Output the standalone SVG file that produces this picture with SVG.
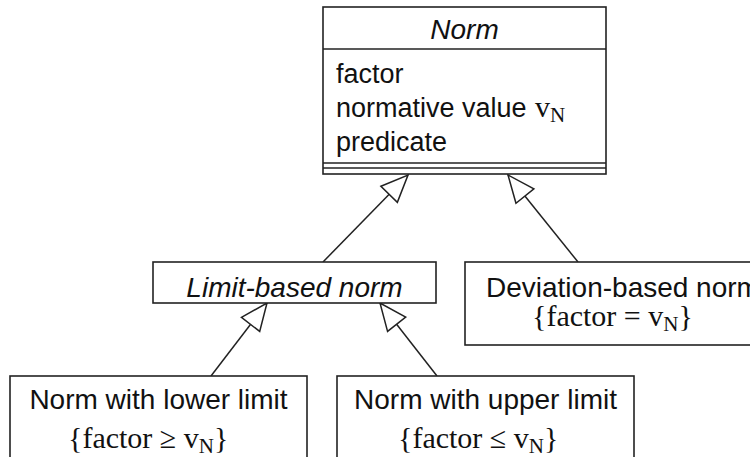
<svg xmlns="http://www.w3.org/2000/svg" width="750" height="457" viewBox="0 0 750 457">
  <style>
    .box { fill: #fff; stroke: #222; stroke-width: 1.6; }
    .rule { stroke: #222; stroke-width: 1.6; fill: none; }
    .edge { stroke: #222; stroke-width: 1.5; fill: none; marker-end: url(#gen); }
    .sans { font-family: "Liberation Sans", Arial, sans-serif; font-size: 28px; fill: #111; }
    .attr { font-size: 27px; }
    .ital { font-style: italic; }
    .serif { font-family: "Liberation Serif", "Times New Roman", serif; font-size: 30px; fill: #111; }
    .sub { font-size: 21px; }
  </style>
  <defs>
    <!-- hollow generalization triangle -->
    <marker id="gen" viewBox="-2 -14 31 28" refX="27" refY="0" markerWidth="31" markerHeight="28" markerUnits="userSpaceOnUse" orient="auto">
      <path d="M0,-11.5 L27,0 L0,11.5 Z" fill="#fff" stroke="#222" stroke-width="1.5"/>
    </marker>
  </defs>
  <rect width="750" height="457" fill="#fff"/>

  <g id="connectors">
    <line class="edge" x1="323" y1="262" x2="408" y2="175"/>
    <line class="edge" x1="578" y1="262" x2="508" y2="175"/>
    <line class="edge" x1="211" y1="376" x2="267" y2="303"/>
    <line class="edge" x1="437" y1="376" x2="380" y2="303"/>
  </g>

  <g id="norm">
    <rect class="box" x="323" y="7" width="283" height="167"/>
    <line class="rule" x1="323" y1="49" x2="606" y2="49"/>
    <line class="rule" x1="323" y1="163" x2="606" y2="163"/>
    <line class="rule" x1="323" y1="168" x2="606" y2="168"/>
    <text class="sans ital" x="464.5" y="39" text-anchor="middle" font-size="27">Norm</text>
    <text class="sans attr" x="336" y="83">factor</text>
    <text class="sans attr" x="336" y="117">normative value<tspan class="serif" x="535">v</tspan><tspan class="serif sub" dy="5">N</tspan></text>
    <text class="sans attr" x="336" y="151">predicate</text>
  </g>

  <g id="limit-based">
    <rect class="box" x="153" y="262" width="283" height="41"/>
    <text class="sans ital" x="294.5" y="297" text-anchor="middle">Limit-based norm</text>
  </g>

  <g id="deviation-based">
    <rect class="box" x="465" y="262" width="300" height="83"/>
    <text class="sans" x="486" y="297">Deviation-based norm</text>
    <text class="serif" x="532" y="326">{factor = v<tspan class="sub" dy="5">N</tspan><tspan dy="-5">}</tspan></text>
  </g>

  <g id="lower-limit">
    <rect class="box" x="10" y="376" width="297" height="100"/>
    <text class="sans" x="158.5" y="409" text-anchor="middle">Norm with lower limit</text>
    <text class="serif" x="68" y="448">{factor ≥ v<tspan class="sub" dy="5">N</tspan><tspan dy="-5">}</tspan></text>
  </g>

  <g id="upper-limit">
    <rect class="box" x="337" y="376" width="297" height="100"/>
    <text class="sans" x="485.5" y="409" text-anchor="middle">Norm with upper limit</text>
    <text class="serif" x="398" y="448">{factor ≤ v<tspan class="sub" dy="5">N</tspan><tspan dy="-5">}</tspan></text>
  </g>
</svg>
